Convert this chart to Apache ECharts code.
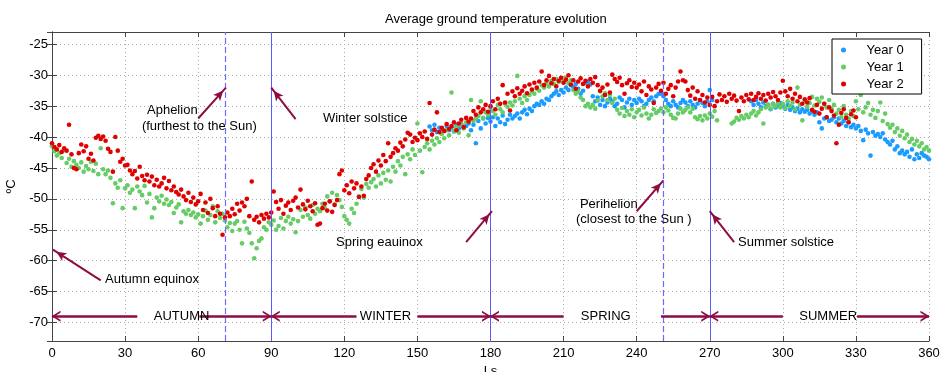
<!DOCTYPE html>
<html>
<head>
<meta charset="utf-8">
<script src="https://cdn.jsdelivr.net/npm/echarts@6/dist/echarts.min.js"></script>
<style>html,body{margin:0;padding:0;background:#fff}#c{width:942px;height:372px}</style>
</head>
<body>
<div id="c"></div>
<script>
// ---- data (Ls in degrees, temperature in ºC) ----
const title = 'Average ground temperature evolution';
const seriesNames = ['Year 0', 'Year 1', 'Year 2'];
const xTicks = [0, 30, 60, 90, 120, 150, 180, 210, 240, 270, 300, 330, 360];
const yTicks = [-25, -30, -35, -40, -45, -50, -55, -60, -65, -70];

// Year 0: one value per Ls degree starting at Ls 155 (null = no data)
const year0Start = 155;
const year0 = [
 -38.3,-38.9,-38.0,-39.2,-38.5,
 -38.7,-39.0,-38.2,-38.9,-38.4,-39.1,-38.0,-38.6,-37.9,-38.5,
 -38.2,-37.8,-38.9,-38.0,-41.0,-37.4,-38.6,-37.0,-37.8,-36.9,
 -37.5,-36.8,-38.2,-37.0,-37.6,-36.5,-37.9,-37.2,-36.4,-37.0,
 -36.6,-36.2,-37.0,-36.0,-35.6,-36.3,-35.4,-35.8,-35.0,-34.6,
 -34.8,-34.2,-34.6,-33.8,-34.0,-33.4,-33.0,-32.6,-33.2,-32.4,
 -32.8,-32.0,-32.4,-31.6,-31.9,-31.4,-32.2,-33.0,-32.5,-31.2,
 -31.0,-31.5,-33.4,-34.2,-33.6,-34.8,-34.0,-35.0,-34.4,-33.8,
 -34.2,-35.0,-34.6,-33.6,-34.0,-35.2,-34.4,-33.8,-34.8,-34.0,
 -34.5,-33.8,-34.2,-35.0,-34.6,-34.0,-33.6,-34.2,-33.4,-33.0,
 -33.0,-33.4,-34.0,-34.6,-35.0,-34.2,-34.8,-35.2,-34.5,-34.0,
 -34.4,-35.0,-34.2,-34.8,-35.2,-34.6,-34.0,-34.5,-35.0,-34.2,
 -32.4,-34.0,null,null,null,null,null,null,null,null,
 null,null,null,null,null,null,null,-34.2,-34.8,-34.0,
 -34.6,-35.2,-34.4,-35.0,-34.8,-35.5,-34.6,-35.2,-35.0,-34.5,
 -35.0,-35.4,-34.8,-35.6,-35.2,-35.8,-35.4,-36.0,-35.5,-35.9,
 -35.6,-36.2,-35.8,-36.4,-36.0,-37.6,-38.6,-37.0,-36.8,-37.4,
 -37.2,-36.8,-37.6,-37.0,-37.8,-37.4,-38.2,-37.6,-38.4,-38.0,
 -38.6,-38.2,-39.0,-40.5,-38.8,-39.4,-43.0,-39.2,-39.8,-39.5,
 -40.0,-39.4,-40.4,-40.8,-41.2,-40.6,-42.0,-41.5,-42.6,-42.2,
 -42.8,-42.4,-43.2,-42.0,-43.6,-42.8,-43.4,-42.6,-43.0,-43.2,-43.6
];

// Year 1: one value per Ls degree starting at Ls 0
const year1Start = 0;
const year1 = [
 -41.5,-42.3,-43.0,-42.6,-43.4,-42.1,-44.2,-43.5,-44.8,-43.9,
 -44.5,-45.0,-44.1,-45.6,-44.7,-45.2,-44.0,-45.5,-44.3,-46.0,
 -41.8,-45.2,-46.0,-45.4,-46.6,-50.7,-47.5,-48.2,-47.0,-51.5,
 -48.3,-47.8,-49.0,-48.5,-51.5,-48.0,-48.8,-49.4,-47.9,-50.6,
 -49.2,-53.0,-51.5,-49.8,-50.4,-49.5,-50.8,-50.1,-51.0,-50.5,
 -52.3,-51.4,-50.9,-53.8,-52.0,-52.4,-51.8,-52.6,-52.2,-53.0,
 -52.5,-54.0,-52.8,-51.9,-53.4,-52.6,-51.2,-53.8,-52.0,-53.1,
 -52.4,-53.5,-54.6,-53.9,-55.2,-54.0,-53.6,-55.0,-57.2,-53.7,
 -54.8,-55.5,-57.2,-59.6,-58.0,-56.8,-56.4,-54.6,-55.0,-53.8,
 -54.2,-53.5,-55.0,-54.4,-53.1,-54.8,-53.6,-52.9,-54.0,-53.3,
 -55.4,-53.6,-51.8,-52.9,-51.4,-52.6,-53.2,-51.0,-52.4,-51.6,
 -52.0,-50.8,-51.5,-49.6,-50.4,-49.0,-50.9,-49.4,-50.2,-51.3,
 -52.8,-53.4,-54.0,-51.6,-52.3,-50.8,-49.6,-48.4,-49.8,-47.6,
 -48.2,-47.3,-46.8,-48.0,-46.2,-47.5,-45.8,-46.9,-45.4,-47.2,
 -44.8,-45.6,-43.9,-44.6,-43.2,-46.0,-42.8,-43.6,-42.0,-42.9,
 -37.8,-42.2,-45.7,-41.6,-41.0,-42.0,-40.6,-41.2,-40.2,-40.8,
 -39.5,-40.2,-38.9,-39.7,-32.8,-39.0,-38.4,-39.3,-38.0,-38.6,
 -37.6,-39.7,-34.0,-37.4,-37.0,-36.6,-34.2,-36.9,-36.0,-36.4,
 -35.2,-35.8,-36.4,-34.8,-35.5,-36.0,-34.6,-35.1,-34.4,-34.9,
 -34.2,-30.1,-33.8,-34.5,-33.4,-34.0,-33.2,-32.6,-33.0,-32.2,
 -32.5,-31.6,-32.0,-31.2,-31.8,-30.9,-31.4,-30.6,-31.1,-30.5,
 -31.0,-30.4,-31.3,-30.8,-32.4,-33.0,-32.6,-33.6,-34.0,-35.0,
 -34.6,-35.2,-34.8,-35.4,-34.1,-32.6,-33.4,-32.9,-34.0,-33.2,
 -34.5,-33.8,-35.6,-36.2,-35.3,-36.6,-35.8,-36.4,-35.5,-36.8,
 -36.0,-35.6,-36.5,-35.2,-36.2,-37.0,-36.4,-35.5,-36.1,-35.8,
 -35.4,-36.0,-35.2,-35.7,-36.4,-36.9,-37.0,-36.2,-35.4,-36.0,
 -35.6,-35.2,-36.0,-35.4,-36.8,-37.1,-36.6,-37.3,-36.5,-37.0,
 -36.2,-36.7,-35.8,-37.3,null,null,null,null,null,-37.8,
 -37.5,-36.9,-37.2,-36.6,-37.0,-36.4,-36.8,-36.2,-35.8,-36.5,
 -36.0,-35.5,-37.8,-35.2,-34.8,-35.4,-34.6,-35.0,-34.5,-35.2,
 -34.6,-35.3,-34.2,-35.0,-34.4,-35.5,-32.0,-34.8,-37.3,-34.2,
 -35.1,-34.5,-33.5,-34.9,-33.8,-34.3,-33.6,-34.6,-35.2,-34.0,
 -35.4,-34.8,-36.2,-35.6,-36.8,-35.0,-36.4,-37.0,-35.8,-36.6,
 -34.2,-35.5,-33.2,-36.0,-35.2,-34.5,-36.4,-35.6,-36.9,-35.8,
 -34.4,-37.4,-36.2,-37.9,-38.5,-38.0,-39.2,-38.6,-39.8,-39.0,
 -40.2,-39.6,-40.8,-40.3,-41.2,-40.6,-41.5,-41.0,-42.0,-41.6,-42.2
];

// Year 2: one value per Ls degree starting at Ls 0
const year2Start = 0;
const year2 = [
 -41.0,-41.6,-42.0,-41.3,-42.4,-41.8,-42.2,-38.0,-42.8,-45.0,
 -45.2,-42.6,-41.2,-42.3,-41.5,-43.5,-42.7,-43.8,-40.1,-39.8,
 -40.3,-39.9,-40.6,-41.9,-42.4,-45.6,-40.0,-42.2,-44.0,-43.5,
 -44.6,-44.5,-45.4,-46.0,-45.5,-46.7,-44.8,-46.3,-47.0,-46.1,
 -47.2,-46.4,-47.8,-46.9,-48.0,-47.5,-46.6,-48.3,-47.1,-48.6,
 -48.0,-48.9,-49.3,-48.5,-49.6,-50.2,-49.0,-50.5,-49.8,-50.9,
 -50.4,-49.2,-51.8,-50.6,-52.3,-50.0,-51.5,-52.8,-51.2,-52.4,
 -55.8,-53.0,-52.2,-52.8,-51.6,-52.5,-50.8,-51.9,-50.6,-51.2,
 -50.0,-52.8,-47.2,-53.4,-52.9,-53.8,-52.6,-53.2,-52.4,-53.0,
 -52.2,-48.8,-50.5,-51.6,-50.2,-52.4,-51.1,-50.6,-51.8,-50.3,
 -49.8,-51.4,-48.5,-50.9,-51.7,-50.3,-51.2,-52.0,-50.7,-54.2,
 -54.0,-51.5,-50.8,-51.9,-50.4,-52.1,-51.0,-50.2,-46.0,-45.4,
 -48.6,-47.8,-49.1,-47.2,-48.3,-47.5,-49.7,-48.0,-49.5,-46.8,
 -46.2,-45.0,-44.4,-45.6,-43.8,-44.6,-42.9,-43.9,-41.0,-43.2,
 -42.6,-41.8,-42.2,-40.9,-41.5,-40.4,-39.3,-39.6,-40.8,-40.1,
 -40.5,-39.4,-40.0,-39.1,-40.3,-34.5,-39.6,-38.8,-36.0,-39.2,
 -38.5,-39.0,-37.9,-38.7,-38.2,-37.6,-38.9,-37.8,-37.2,-38.4,
 -36.9,-37.5,-37.0,-35.8,-36.4,-35.2,-36.0,-35.5,-34.8,-35.9,
 -35.0,-34.2,-35.5,-33.8,-34.6,-31.6,-34.4,-33.0,-35.7,-32.6,
 -33.4,-32.1,-33.0,-32.5,-31.8,-32.9,-31.5,-32.3,-31.2,-32.0,
 -31.0,-29.4,-31.6,-30.8,-30.1,-31.3,-30.6,-31.8,-30.9,-30.4,
 -31.2,-30.7,-30.0,-31.5,-30.8,-32.2,-31.0,-30.5,-31.4,-30.9,
 -31.8,-30.6,-31.2,-30.3,-31.6,-32.5,-32.0,-33.2,-31.5,-32.8,
 -29.9,-30.6,-31.1,-30.4,-31.6,-33.0,-31.3,-30.8,-31.9,-31.2,
 -32.0,-31.5,-32.6,-31.0,-33.2,-31.8,-32.3,-34.5,-32.0,-31.4,
 -32.5,-31.2,-33.0,-32.2,-31.6,-33.4,-32.0,-31.0,-29.4,-30.8,
 -31.0,-32.4,-33.3,-32.0,-33.8,-32.6,-34.0,-33.2,-34.4,-33.6,
 -34.8,-33.5,-35.0,-34.2,-33.1,-34.0,-33.4,-34.3,-33.0,-33.8,
 -33.3,-34.1,-35.8,-33.6,-34.2,-33.2,-33.9,-33.0,-34.0,-33.5,
 -32.9,-33.8,-33.2,-34.1,-33.0,-33.6,-32.7,-33.4,-34.0,-32.8,
 -30.9,-32.6,-33.4,-32.2,-33.8,-33.0,-34.2,-33.5,-34.6,-33.9,
 -34.4,-33.7,-35.6,-35.9,-34.8,-36.2,-35.4,-34.6,-36.8,-35.2,
 -35.8,-36.5,-41.0,-38.0,-36.1,-35.5,-36.9,-37.6,-36.3,-35.7,-36.8
];

// ---- annotations (positions in data coordinates) ----
const markerLs = { dashed: [71, 251], solid: [90, 180, 270] };
const noteTexts = [
  ['Aphelion', 39.0, -35.7],
  ['(furthest to the Sun)', 36.9, -38.3],
  ['Winter solstice', 111.2, -37.0],
  ['Autumn equinox', 21.8, -63.0],
  ['Spring eauinox', 116.6, -57.0],
  ['Perihelion', 216.7, -50.9],
  ['(closest to the Sun )', 215.1, -53.3],
  ['Summer solstice', 281.6, -57.0]
];
const noteArrows = [
  [[20, -63.2], [0.4, -58.2]],
  [[60, -37], [71.4, -32]],
  [[100, -37.1], [90, -32]],
  [[170, -57], [180.6, -52]],
  [[240, -52], [251, -47]],
  [[280, -57], [270, -52]]
];
const seasonY = -69;
const seasonNames = [['AUTUMN', 53.2], ['WINTER', 136.9], ['SPRING', 227.3], ['SUMMER', 318.6]];
const seasonArrows = [[35, 0], [60.5, 90], [125, 90], [150, 180], [210, 180], [250, 270], [300, 270], [330.5, 360]];

// ---- chart ----
const FONT = 'Liberation Sans, Arial, sans-serif';
const colors = ['#1a9bff', '#66cc66', '#e00000'];
const ANN = '#8e0c44';
const chevron = 'path://M10,0 L20,14 L16.5,14 L10,5 L3.5,14 L0,14 Z';

function toPoints(start, arr) {
  const out = [];
  arr.forEach((v, i) => { if (v !== null) out.push([start + i, v]); });
  return out;
}

const chart = echarts.init(document.getElementById('c'), null, { renderer: 'canvas' });

const scatterBase = { type: 'scatter', symbol: 'circle', symbolSize: 4.6, animation: false, z: 3 };

const vLines = [];
markerLs.dashed.forEach(v => vLines.push({ xAxis: v, lineStyle: { type: [6, 3], color: '#6a6aff', width: 1.2, opacity: 1 } }));
markerLs.solid.forEach(v => vLines.push({ xAxis: v, lineStyle: { type: 'solid', color: '#5a5aff', width: 1, opacity: 1 } }));

const arrowLines = noteArrows.map(a => [
  { coord: a[0], symbol: 'none' },
  { coord: a[1], symbol: 'arrow', symbolSize: [7, 10], symbolOffset: [0, 4] }
]);
const seasonLines = seasonArrows.map(a => [
  { coord: [a[0], seasonY], symbol: 'none' },
  { coord: [a[1], seasonY], symbol: chevron, symbolSize: [11, 9], symbolOffset: [0, 4] }
]);

const notePoints = noteTexts.map(t => ({
  coord: [t[1], t[2]], value: t[0],
  label: { show: true, formatter: t[0], position: [0, 0], align: 'left', verticalAlign: 'middle',
           color: '#000', fontFamily: FONT, fontSize: 13 }
}));
const seasonPoints = seasonNames.map(s => ({
  coord: [s[1], seasonY], value: s[0],
  label: { show: true, formatter: s[0], position: [0, 0], align: 'center', verticalAlign: 'middle',
           color: '#000', fontFamily: FONT, fontSize: 13 }
}));

const axisCommon = {
  axisLine: { show: true, lineStyle: { color: '#444', width: 1 } },
  axisTick: { show: true, inside: true, length: 5, lineStyle: { color: '#444' } },
};

chart.setOption({
  backgroundColor: '#fff',
  animation: false,
  textStyle: { fontFamily: FONT },
  title: { text: title, left: 380, top: 8, textStyle: { fontFamily: FONT, fontSize: 13, fontWeight: 'normal', color: '#000' } },
  legend: {
    data: seriesNames, orient: 'vertical', left: 832, top: 39,
    padding: [3, 18, 2, 9], itemWidth: 36, itemHeight: 5, itemGap: 1,
    backgroundColor: '#fff', borderColor: '#000', borderWidth: 1, borderRadius: 0,
    icon: 'circle',
    textStyle: { fontFamily: FONT, fontSize: 13, color: '#000', lineHeight: 16 }
  },
  grid: { left: 52, right: 13, top: 32, bottom: 31, containLabel: false, outerBoundsMode: 'none', show: false },
  xAxis: [
    Object.assign({}, axisCommon, {
      type: 'value', min: xTicks[0], max: xTicks[xTicks.length - 1], interval: 30, position: 'bottom',
      name: 'Ls', nameLocation: 'middle', nameGap: 20,
      nameTextStyle: { fontFamily: FONT, fontSize: 13, color: '#000' },
      axisLabel: { color: '#000', fontFamily: FONT, fontSize: 13, margin: 6 },
      splitLine: { show: true, lineStyle: { type: [1, 3], color: '#aaa' } }
    }),
    Object.assign({}, axisCommon, {
      type: 'value', min: 0, max: 360, interval: 30, position: 'top',
      axisLabel: { show: false }, splitLine: { show: false }
    })
  ],
  yAxis: [
    Object.assign({}, axisCommon, {
      type: 'value', min: -73, max: -23, splitNumber: 10, position: 'left',
      name: 'ºC', nameLocation: 'middle', nameGap: 32, nameRotate: 90,
      nameTextStyle: { fontFamily: FONT, fontSize: 13, color: '#000' },
      axisLabel: { color: '#000', fontFamily: FONT, fontSize: 13, margin: 4,
        formatter: v => (yTicks.indexOf(v) >= 0 ? String(v) : '') },
      splitLine: { show: true, lineStyle: { type: [1, 3], color: '#aaa' } }
    }),
    Object.assign({}, axisCommon, {
      type: 'value', min: -73, max: -23, splitNumber: 10, position: 'right',
      axisLabel: { show: false }, splitLine: { show: false }
    })
  ],
  series: [
    Object.assign({}, scatterBase, { name: seriesNames[0], data: toPoints(year0Start, year0), itemStyle: { color: colors[0], opacity: 1 } }),
    Object.assign({}, scatterBase, { name: seriesNames[1], data: toPoints(year1Start, year1), itemStyle: { color: colors[1], opacity: 1 } }),
    Object.assign({}, scatterBase, { name: seriesNames[2], data: toPoints(year2Start, year2), itemStyle: { color: colors[2], opacity: 1 } }),
    {
      type: 'scatter', name: 'markers', data: [], z: 2, silent: true,
      markLine: { silent: true, animation: false, symbol: ['none', 'none'], label: { show: false }, data: vLines }
    },
    {
      type: 'scatter', name: 'annotations', data: [], z: 4, silent: true,
      markLine: { silent: true, animation: false, label: { show: false },
        lineStyle: { color: ANN, width: 2, type: 'solid' }, data: arrowLines },
      markPoint: { silent: true, animation: false, symbol: 'circle', symbolSize: 0, data: notePoints }
    },
    {
      type: 'scatter', name: 'seasons', data: [], z: 4, silent: true,
      markLine: { silent: true, animation: false, label: { show: false },
        lineStyle: { color: ANN, width: 2.6, type: 'solid' }, data: seasonLines },
      markPoint: { silent: true, animation: false, symbol: 'circle', symbolSize: 0, data: seasonPoints }
    }
  ]
});
</script>
</body>
</html>
